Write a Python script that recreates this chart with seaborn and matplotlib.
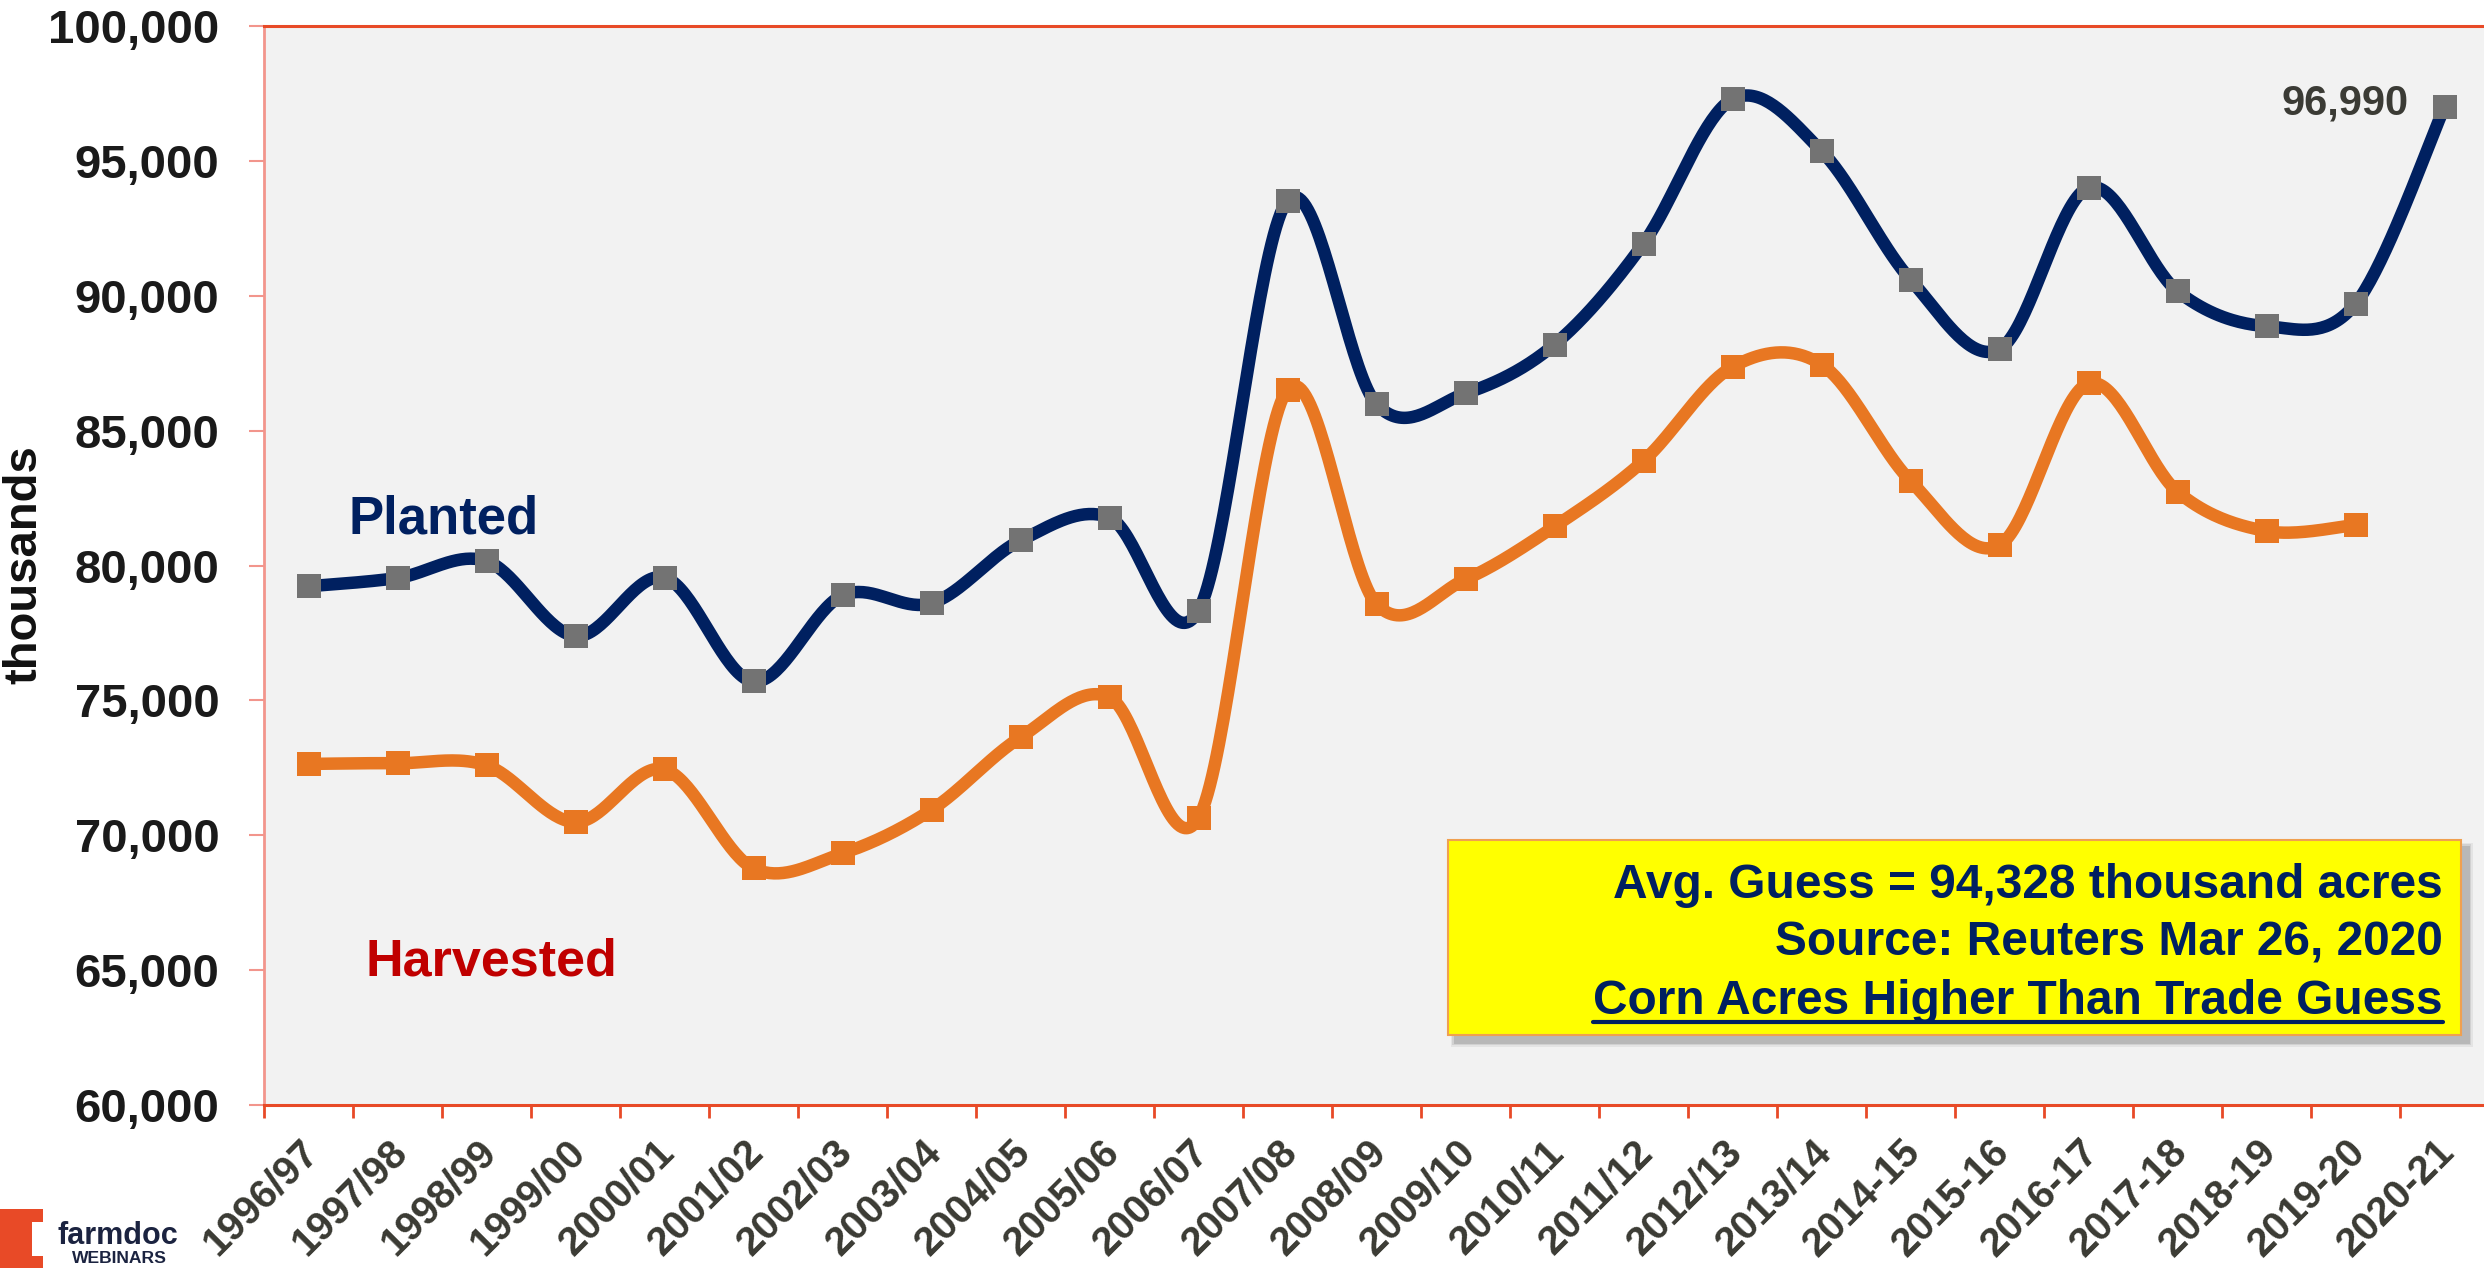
import numpy as np
import matplotlib
matplotlib.use("Agg")
import matplotlib.pyplot as plt
import matplotlib.transforms as mtransforms
import seaborn as sns
from matplotlib.patches import Rectangle, Polygon
from matplotlib.lines import Line2D

sns.set_theme(style="white")
plt.rcParams["font.family"] = ["Liberation Sans", "DejaVu Sans"]

# marketing years (x categories)
years = [
    "1996/97", "1997/98", "1998/99", "1999/00", "2000/01", "2001/02", "2002/03",
    "2003/04", "2004/05", "2005/06", "2006/07", "2007/08", "2008/09", "2009/10",
    "2010/11", "2011/12", "2012/13", "2013/14", "2014-15", "2015-16", "2016-17",
    "2017-18", "2018-19", "2019-20", "2020-21",
]
# corn acres, thousands
planted = [
    79229, 79537, 80165, 77386, 79551, 75702, 78894, 78603, 80929, 81779,
    78327, 93527, 85982, 86382, 88192, 91936, 97291, 95365, 90597, 88019,
    94004, 90167, 88871, 89700, 96990,
]
harvested = [
    72644, 72671, 72589, 70487, 72440, 68768, 69330, 70944, 73631, 75117,
    70638, 86520, 78570, 79490, 81446, 83879, 87365, 87451, 83136, 80753,
    86748, 82733, 81276, 81500,
]
y_ticks = [60000, 65000, 70000, 75000, 80000, 85000, 90000, 95000, 100000]
box_lines = [
    "Avg. Guess = 94,328 thousand acres",
    "Source: Reuters Mar 26, 2020",
    "Corn Acres Higher Than Trade Guess",
]

NAVY = "#002060"
ORANGE = "#E87722"
MARKER_GREY = "#737373"
ILLINI = "#E84A27"
W, H = 2484, 1268


def smooth(xs, ys, n=40):
    """Excel-like smoothed line (Catmull-Rom as cubic Bezier)."""
    p = np.column_stack([xs, ys]).astype(float)
    pe = np.vstack([p[0], p, p[-1]])
    t = np.linspace(0, 1, n)[:, None]
    out = []
    for i in range(len(p) - 1):
        p0, p1, p2, p3 = pe[i], pe[i + 1], pe[i + 2], pe[i + 3]
        b1 = p1 + (p2 - p0) / 6
        b2 = p2 - (p3 - p1) / 6
        seg = (1 - t) ** 3 * p1 + 3 * (1 - t) ** 2 * t * b1 + 3 * (1 - t) * t ** 2 * b2 + t ** 3 * p2
        out.append(seg if i == 0 else seg[1:])
    return np.vstack(out)


def fx(x):
    return x / W


def fy(y):
    return 1 - y / H


fig = plt.figure(figsize=(W / 100, H / 100), dpi=100)
ax = fig.add_axes([fx(264), fy(1105), (2489 - 264) / W, (1105 - 26) / H])
ax.set_facecolor("#F2F2F2")

xp = np.arange(len(planted))
xh = np.arange(len(harvested))
sp = smooth(xp, planted)
sh = smooth(xh, harvested)

sns.lineplot(x=sh[:, 0], y=sh[:, 1], sort=False, estimator=None, color=ORANGE,
             linewidth=9, ax=ax, solid_capstyle="round")
sns.scatterplot(x=xh, y=harvested, marker="s", s=280, color=ORANGE, linewidth=0,
                ax=ax, zorder=3)
sns.lineplot(x=sp[:, 0], y=sp[:, 1], sort=False, estimator=None, color=NAVY,
             linewidth=9, ax=ax, solid_capstyle="round")
sns.scatterplot(x=xp, y=planted, marker="s", s=280, color=MARKER_GREY, linewidth=0,
                ax=ax, zorder=4)

ax.set_xlim(-0.5, 24.5)
ax.set_ylim(60000, 100000)
ax.set_xlabel("")
ax.set_ylabel("")

# y axis
ax.set_yticks(y_ticks, labels=[f"{v:,}" for v in y_ticks])
ax.tick_params(axis="y", direction="out", length=11, width=1.5, color="#F2958C",
               pad=21, labelsize=34, labelcolor="#1A1A1A", left=True)
for lab in ax.get_yticklabels():
    lab.set_fontweight("bold")

# x axis: marks at category boundaries, labels at centres
ax.set_xticks(np.arange(-0.5, len(years), 1))
ax.set_xticklabels([])
ax.set_xticks(np.arange(len(years)), labels=years, minor=True)
ax.tick_params(axis="x", which="major", direction="out", length=9, width=2,
               color=ILLINI, bottom=True)
ax.tick_params(axis="x", which="minor", length=0, pad=20, labelsize=29,
               labelcolor="#3A3A33")
shift = mtransforms.ScaledTranslation(-10 / 100, 0, fig.dpi_scale_trans)
for lab in ax.get_xticklabels(minor=True):
    lab.set_rotation(45)
    lab.set_ha("right")
    lab.set_va("top")
    lab.set_rotation_mode("anchor")
    lab.set_fontweight("bold")
    lab.set_transform(lab.get_transform() + shift)

for side in ["top", "bottom"]:
    ax.spines[side].set_color(ILLINI)
    ax.spines[side].set_linewidth(2.2)
ax.spines["left"].set_color("#F2958C")
ax.spines["left"].set_linewidth(2)
ax.spines["right"].set_visible(False)

# series labels
ax.text(0.0378, 0.530, "Planted", transform=ax.transAxes, color=NAVY,
        fontsize=38, fontweight="bold", va="baseline", ha="left")
ax.text(0.0454, 0.1196, "Harvested", transform=ax.transAxes, color="#C00000",
        fontsize=37.5, fontweight="bold", va="baseline", ha="left")

ax.annotate(f"{planted[-1]:,}", xy=(xp[-1], planted[-1]), xytext=(-26, 3),
            textcoords="offset points", ha="right", va="center", fontsize=30,
            fontweight="bold", color="#3B3B35")

# yellow note box with shadow
AW, AH = 2225, 1079
bx0, bx1 = (1448 - 264) / AW, (2461 - 264) / AW
by0, by1 = (1105 - 1035) / AH, (1105 - 840) / AH
sh_dx, sh_dy = 7 / AW, -7 / AH
for k, a in enumerate([0.12, 0.18, 0.3]):
    grow = (3 - k) * 1.5
    ax.add_patch(Rectangle((bx0 + sh_dx - grow / AW, by0 + sh_dy - grow / AH),
                           bx1 - bx0 + 2 * grow / AW, by1 - by0 + 2 * grow / AH,
                           transform=ax.transAxes, facecolor="#7F7F7F", alpha=a,
                           edgecolor="none", zorder=5))
ax.add_patch(Rectangle((bx0, by0), bx1 - bx0, by1 - by0, transform=ax.transAxes,
                       facecolor="#FFFF00", edgecolor="#F0A050", linewidth=1.5,
                       zorder=6))
baselines = [0.1918, 0.139, 0.0843]
texts = []
for line, yb in zip(box_lines, baselines):
    texts.append(ax.text((2443 - 264) / AW, yb, line, transform=ax.transAxes,
                         ha="right", va="baseline", fontsize=34.5,
                         fontweight="bold", color=NAVY, zorder=7))

# y axis title
fig.text(fx(24), fy(565), "thousands", rotation=90, ha="center", va="center",
         fontsize=34, fontweight="bold", color="#111111")

# farmdoc logo
logo = [(0, 1209), (43, 1209), (43, 1222), (32, 1222), (32, 1256), (43, 1256),
        (43, 1268), (0, 1268)]
fig.patches.append(Polygon([(fx(a), fy(b)) for a, b in logo], closed=True,
                           transform=fig.transFigure, facecolor=ILLINI,
                           edgecolor="none"))
fig.text(fx(57), fy(1244), "farmdoc", fontsize=22, fontweight="bold",
         color="#1B2340", va="baseline", ha="left")
fig.text(fx(72), fy(1263), "WEBINARS", fontsize=12.6, fontweight="bold",
         color="#1B2340", va="baseline", ha="left")

# underline the last line of the note
fig.canvas.draw()
bb = texts[-1].get_window_extent()
base_px = ax.transAxes.transform((0, baselines[-1]))[1]
uy = (base_px - 8) / H
fig.add_artist(Line2D([bb.x0 / W, bb.x1 / W], [uy, uy], transform=fig.transFigure,
                      color=NAVY, linewidth=3, zorder=8))

fig.savefig("out.png", dpi=100)
